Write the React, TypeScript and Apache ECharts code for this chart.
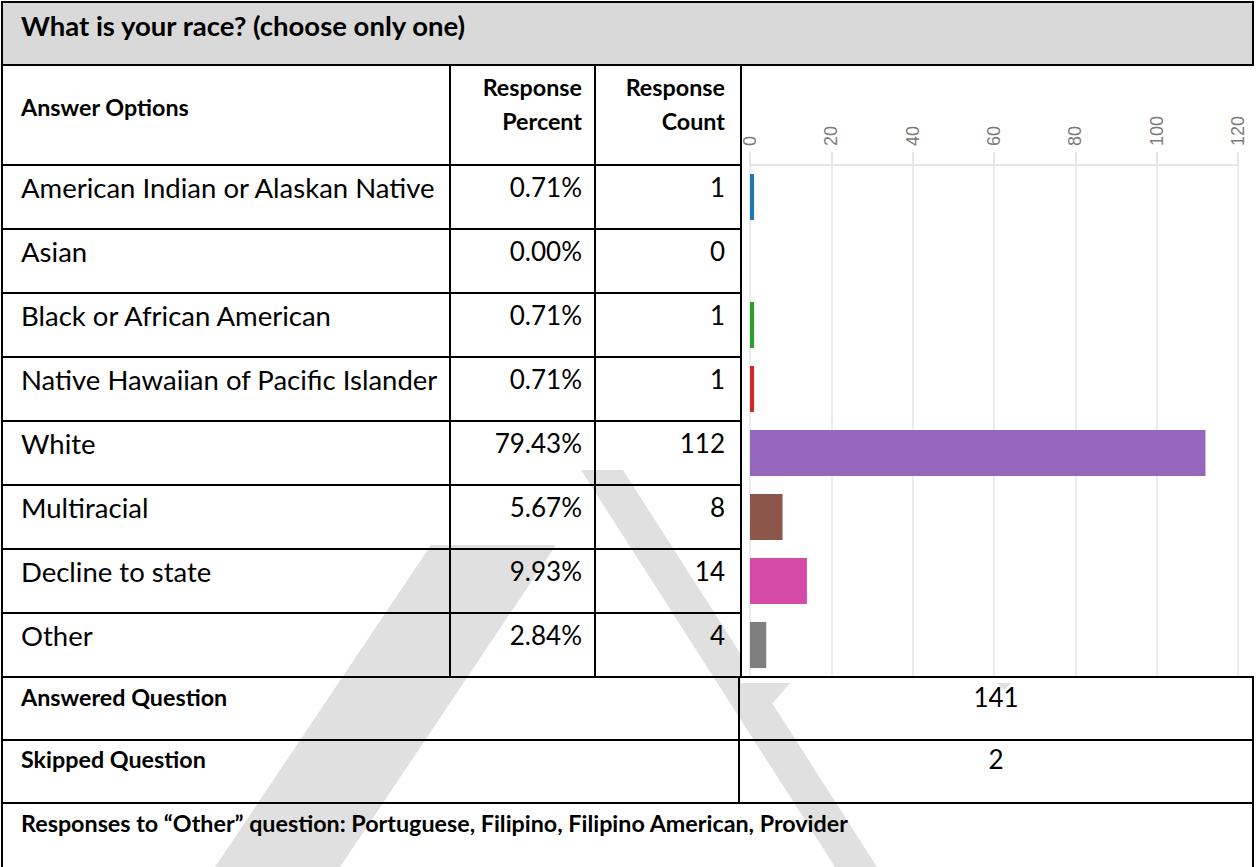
import React, { useEffect, useRef } from "react";
import * as echarts from "echarts";

const title = "What is your race? (choose only one)";
const headers = ["Answer Options", "Response", "Percent", "Response", "Count"];
const categories = [
  "American Indian or Alaskan Native",
  "Asian",
  "Black or African American",
  "Native Hawaiian of Pacific Islander",
  "White",
  "Multiracial",
  "Decline to state",
  "Other",
];
const percents = ["0.71%", "0.00%", "0.71%", "0.71%", "79.43%", "5.67%", "9.93%", "2.84%"];
const counts = [1, 0, 1, 1, 112, 8, 14, 4];
const barColors = ["#1f77b4", "#ff7f0e", "#2ca02c", "#d62728", "#9467bd", "#8c564b", "#d54aa7", "#7f7f7f"];
const xMax = 120;
const xInterval = 20;
const answeredLabel = "Answered Question";
const answeredValue = "141";
const skippedLabel = "Skipped Question";
const skippedValue = "2";
const otherResponses = "Responses to \u201COther\u201D question: Portuguese, Filipino, Filipino American, Provider";

const FONT = "Lato, 'Open Sans', sans-serif";

export default function App() {
  const ref = useRef<HTMLDivElement>(null);
  useEffect(() => {
    document.body.style.margin = "0";
    if (!ref.current) return;
    const chart = echarts.init(ref.current, undefined, { renderer: "svg" });

    const L = 2, R = 1253, TOP = 2, HDR = 65, COLHDR = 165, ROWH = 64;
    const c1 = 450, c2 = 595, c3 = 741, c3b = 739;
    const tableEnd = COLHDR + ROWH * categories.length; // 677
    const r2 = 740, r3 = 803, BOTTOM = 867;
    const TX = 21;

    const els: any[] = [];
    const line = (x1: number, y1: number, x2: number, y2: number) =>
      els.push({ type: "line", z: 100, shape: { x1, y1, x2, y2 }, style: { stroke: "#000", lineWidth: 2 } });
    const text = (t: string, x: number, y: number, align: string, size: number, bold = false) =>
      els.push({
        type: "text", z: 101, x, y,
        style: {
          text: t, fill: "#000", fontSize: size, fontFamily: FONT, fontWeight: bold ? "bold" : "normal",
          align, verticalAlign: "middle", textAlign: align, textVerticalAlign: "middle",
        },
      });

    // watermark (light gray), partly hidden under the chart picture area
    const wm = (pts: number[][]) =>
      els.push({ type: "polygon", z: 0.5, shape: { points: pts }, style: { fill: "#e0e0e0" } });
    wm([[431, 545], [556, 545], [340, 867], [215, 867]]);
    wm([[581, 470], [623, 470], [877, 867], [835, 867]]);
    wm([[773, 703], [900, 555], [800, 555], [735, 690]]);
    wm([[996, 682], [1013, 682], [1004, 690]]);
    // white background of the chart picture
    els.push({ type: "rect", z: 1, shape: { x: c3, y: HDR, width: R - c3 + 2, height: 683 - HDR }, style: { fill: "#fff" } });

    // header fill
    els.push({ type: "rect", z: 50, shape: { x: L, y: TOP, width: R - L, height: HDR - TOP }, style: { fill: "#d9d9d9" } });

    // horizontal lines
    line(L - 1, TOP, R + 1, TOP);
    line(L - 1, HDR, R + 1, HDR);
    line(L - 1, COLHDR, c3 + 1, COLHDR);
    for (let i = 1; i < categories.length; i++) line(L - 1, COLHDR + i * ROWH, c3 + 1, COLHDR + i * ROWH);
    line(L - 1, tableEnd, R + 1, tableEnd);
    line(L - 1, r2, R + 1, r2);
    line(L - 1, r3, R + 1, r3);
    // vertical lines
    line(L, TOP, L, BOTTOM);
    line(R, TOP, R, HDR);
    line(R, tableEnd, R, BOTTOM);
    line(c1, HDR, c1, tableEnd);
    line(c2, HDR, c2, tableEnd);
    line(c3, HDR, c3, tableEnd);
    line(c3b, tableEnd, c3b, r3);

    // texts
    const fTitle = 27.5, fBold = 23.3, fName = 27.5, fNum = 26;
    text(title, TX, 25, "left", fTitle, true);
    text(headers[0], TX, 107, "left", fBold, true);
    text(headers[1], 582, 87, "right", fBold, true);
    text(headers[2], 582, 121, "right", fBold, true);
    text(headers[3], 725, 87, "right", fBold, true);
    text(headers[4], 725, 121, "right", fBold, true);
    categories.forEach((c, i) => {
      const y = COLHDR + i * ROWH + 22;
      text(c, TX, y, "left", fName);
      text(percents[i], 582, y, "right", fNum);
      text(String(counts[i]), 725, y, "right", fNum);
    });
    text(answeredLabel, TX, 697, "left", fBold, true);
    text(answeredValue, (c3b + R) / 2, 697, "center", fNum);
    text(skippedLabel, TX, 759, "left", fBold, true);
    text(skippedValue, (c3b + R) / 2, 759, "center", fNum);
    text(otherResponses, TX, 823, "left", fBold, true);

    chart.setOption({
      animation: false,
      grid: { left: 750, top: COLHDR, width: 488, height: tableEnd - COLHDR, containLabel: false },
      xAxis: {
        type: "value",
        position: "top",
        z: 1.5,
        min: 0,
        max: xMax,
        interval: xInterval,
        axisLine: { show: true, lineStyle: { color: "#e6e6e6", width: 2 } },
        axisTick: { show: true, length: 13, lineStyle: { color: "#e6e6e6", width: 2 } },
        splitLine: { show: true, lineStyle: { color: "#ebebeb", width: 2 } },
        axisLabel: { rotate: -90, margin: 19, color: "#7a7a7a", fontSize: 18, fontFamily: "'Liberation Sans', Arial, sans-serif" },
      },
      yAxis: {
        type: "category",
        inverse: true,
        data: categories,
        axisLine: { show: false },
        axisTick: { show: false },
        axisLabel: { show: false },
        splitLine: { show: false },
      },
      series: [
        {
          type: "bar",
          barCategoryGap: "28%",
          z: 2,
          data: counts.map((v, i) => ({ value: v, itemStyle: { color: barColors[i] } })),
        },
      ],
      graphic: { elements: els },
    });
    return () => chart.dispose();
  }, []);
  return <div ref={ref} style={{ width: 1259, height: 867 }} />;
}
